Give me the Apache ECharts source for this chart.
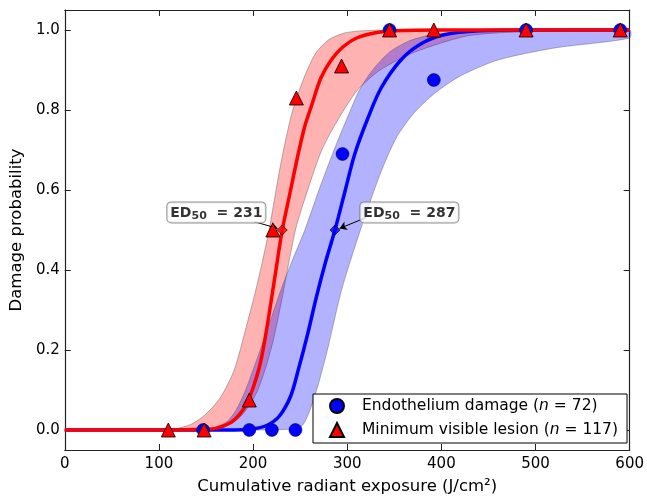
<!DOCTYPE html>
<html>
<head>
<meta charset="utf-8">
<script src="https://cdn.jsdelivr.net/npm/echarts@6/dist/echarts.min.js"></script>
<style>
  html, body { margin: 0; padding: 0; background: #fff; }
  #chart { width: 647px; height: 500px; }
</style>
</head>
<body>
<div id="chart"></div>
<script>
// tick labels
const xTicks = [0, 100, 200, 300, 400, 500, 600];
const yTicks = [0, 0.2, 0.4, 0.6, 0.8, 1.0];

// observed points
const endoX = [147, 196, 220, 245, 295, 345, 392, 490, 590];
const endoY = [0, 0, 0, 0, 0.69, 1, 0.875, 1, 1];
const lesionX = [110, 148, 196, 221, 246, 294, 345, 392, 490, 590];
const lesionY = [0, 0, 0.075, 0.5, 0.83, 0.91, 1, 1, 1, 1];

// ED50 values
const ed50Lesion = 231;
const ed50Endo = 287;

// fitted curves
const lesionFit = [[0,0],[100,0],[140,0.001],[160,0.004],[176,0.018],[186,0.04],[193,0.065],[200,0.105],[208,0.17],[215,0.26],[223,0.38],[231,0.5],[239,0.59],[247,0.68],[255,0.76],[262,0.81],[272,0.88],[283,0.925],[295,0.957],[310,0.98],[330,0.993],[350,0.998],[400,1],[600,1]];
const endoFit = [[0,0],[180,0],[200,0.003],[215,0.012],[228,0.035],[240,0.085],[248,0.15],[258,0.24],[267,0.33],[277,0.42],[287,0.5],[298,0.6],[308,0.69],[322,0.78],[336,0.855],[357,0.925],[378,0.965],[403,0.988],[440,0.998],[500,1],[600,1]];

// confidence bands (upper = left edge, lower = right edge)
const lesionUpper = [[110,0],[120,0.004],[135,0.015],[150,0.04],[165,0.08],[180,0.15],[193,0.26],[205,0.37],[217,0.5],[229,0.66],[241,0.79],[254,0.88],[266,0.94],[280,0.975],[298,0.993],[325,0.999],[400,1],[600,1]];
const lesionLower = [[145,0],[165,0.006],[185,0.03],[197,0.065],[205,0.1],[214,0.16],[222,0.23],[230,0.32],[245,0.5],[258,0.6],[273,0.7],[290,0.775],[311,0.85],[335,0.9],[372,0.945],[427,0.985],[480,0.995],[600,1]];
const endoUpper = [[145,0],[160,0.006],[172,0.02],[182,0.05],[192,0.1],[203,0.17],[215,0.25],[228,0.34],[241,0.42],[255,0.5],[270,0.6],[286,0.7],[300,0.78],[313,0.85],[327,0.9],[345,0.945],[365,0.972],[385,0.986],[420,0.995],[480,1],[600,1]];
const endoLower = [[200,0],[240,0.002],[250,0.006],[256,0.025],[262,0.06],[270,0.12],[280,0.21],[294,0.35],[314,0.5],[335,0.64],[352,0.73],[370,0.79],[392,0.84],[420,0.885],[460,0.925],[520,0.955],[600,0.98]];

const FONT = 'DejaVu Sans';
const chart = echarts.init(document.getElementById('chart'));

function band(name, upper, lower, fill) {
  const pts = upper.concat(lower.slice().reverse());
  return {
    type: 'custom',
    name: name,
    silent: true,
    z: 1,
    data: [[0, 0]],
    renderItem: (params, api) => ({
      type: 'polygon',
      shape: { points: pts.map(p => api.coord(p)), smooth: 0.25 },
      style: { fill: fill, stroke: 'rgba(90,90,90,0.45)', lineWidth: 1 }
    })
  };
}

function edBox(x, y, value) {
  return {
    type: 'scatter',
    silent: true,
    z: 10,
    symbolSize: 0,
    data: [[x, y]],
    label: {
      show: true,
      position: 'inside',
      formatter: '{b|ED}{s|50}{b|  = ' + value + '}',
      backgroundColor: '#fff',
      borderColor: '#777',
      borderWidth: 1,
      borderRadius: 4,
      padding: [2, 3, 1, 3],
      rich: {
        b: { fontFamily: FONT, fontWeight: 'bold', fontSize: 14, color: '#000' },
        s: { fontFamily: FONT, fontWeight: 'bold', fontSize: 11, color: '#000', verticalAlign: 'bottom', padding: [6, 0, 0, 0] }
      }
    }
  };
}

function edPoint(value, color, from, to) {
  return {
    type: 'scatter',
    silent: true,
    z: 9,
    symbol: 'diamond',
    symbolSize: 10,
    itemStyle: { color: color, borderColor: '#000', borderWidth: 0.8 },
    data: [[value, 0.5]],
    markLine: {
      silent: true,
      symbol: ['none', 'arrow'],
      symbolSize: 7,
      label: { show: false },
      lineStyle: { color: '#000', width: 1, type: 'solid' },
      data: [[{ coord: from }, { coord: to }]]
    }
  };
}

const axisCommon = {
  axisLine: { show: true, onZero: false, lineStyle: { color: '#222', width: 1.2 } },
  axisTick: { show: true, inside: true, length: 6, lineStyle: { color: '#222' } },
  splitLine: { show: false }
};

const option = {
  animation: false,
  backgroundColor: '#fff',
  grid: { left: 64, right: 13, top: 10, bottom: 49, containLabel: false },
  xAxis: [
    Object.assign({}, axisCommon, {
      type: 'value', min: 0, max: 600, interval: 100,
      name: 'Cumulative radiant exposure (J/cm²)',
      nameLocation: 'middle', nameGap: 28,
      nameTextStyle: { fontFamily: FONT, fontSize: 16.5, color: '#000' },
      axisLabel: { fontFamily: FONT, fontSize: 15, color: '#000', margin: 7, customValues: xTicks }
    }),
    Object.assign({}, axisCommon, {
      type: 'value', min: 0, max: 600, interval: 100, position: 'top',
      axisLabel: { show: false }
    })
  ],
  yAxis: [
    Object.assign({}, axisCommon, {
      type: 'value', min: -0.05, max: 1.05,
      name: 'Damage probability',
      nameLocation: 'middle', nameGap: 37,
      nameTextStyle: { fontFamily: FONT, fontSize: 16.5, color: '#000' },
      axisTick: { show: true, inside: true, length: 6, lineStyle: { color: '#222' }, customValues: yTicks },
      axisLabel: { fontFamily: FONT, fontSize: 15, color: '#000', margin: 5, customValues: yTicks,
        formatter: v => v.toFixed(1) }
    }),
    Object.assign({}, axisCommon, {
      type: 'value', min: -0.05, max: 1.05, position: 'right',
      axisTick: { show: true, inside: true, length: 6, lineStyle: { color: '#222' }, customValues: yTicks },
      axisLabel: { show: false }
    })
  ],
  legend: {
    left: 313, top: 394,
    orient: 'vertical',
    borderColor: '#000', borderWidth: 1, borderRadius: 0,
    padding: [3, 9, 4, 16],
    itemGap: 6, itemWidth: 14, itemHeight: 14,
    backgroundColor: '#fff',
    data: [
      { name: 'Endothelium damage', icon: 'circle' },
      { name: 'Minimum visible lesion', icon: 'triangle' }
    ],
    formatter: name => name === 'Endothelium damage'
      ? '{a|Endothelium damage (}{i|n}{a| = 72)}'
      : '{a|Minimum visible lesion (}{i|n}{a| = 117)}',
    textStyle: {
      padding: [0, 0, 0, 13],
      lineHeight: 18,
      rich: {
        a: { fontFamily: FONT, fontSize: 15.5, color: '#000' },
        i: { fontFamily: FONT, fontSize: 15.5, color: '#000', fontStyle: 'italic' }
      }
    }
  },
  series: [
    band('lesion band', lesionUpper, lesionLower, 'rgba(255,0,0,0.3)'),
    band('endo band', endoUpper, endoLower, 'rgba(0,0,255,0.3)'),
    {
      type: 'line', name: 'endo fit', data: endoFit, showSymbol: false, silent: true, z: 3,
      smooth: 0.3,
      lineStyle: { color: '#0000ff', width: 3.5 }
    },
    {
      type: 'line', name: 'lesion fit', data: lesionFit, showSymbol: false, silent: true, z: 4,
      smooth: 0.3,
      lineStyle: { color: '#ff0000', width: 3.5 }
    },
    {
      type: 'scatter', name: 'Endothelium damage', z: 5,
      symbol: 'circle', symbolSize: 13,
      itemStyle: { color: '#0000ff', borderColor: '#000', borderWidth: 0.5, opacity: 1 },
      data: endoX.map((x, i) => [x, endoY[i]])
    },
    {
      type: 'scatter', name: 'Minimum visible lesion', z: 6,
      symbol: 'triangle', symbolSize: 14,
      itemStyle: { color: '#ff0000', borderColor: '#000', borderWidth: 0.8, opacity: 1 },
      data: lesionX.map((x, i) => [x, lesionY[i]])
    },
    edPoint(ed50Lesion, '#ff0000', [201, 0.521], [226, 0.504]),
    edPoint(ed50Endo, '#0000ff', [320, 0.531], [292, 0.504]),
    edBox(161, 0.544, ed50Lesion),
    edBox(366, 0.544, ed50Endo)
  ]
};

chart.setOption(option);
</script>
</body>
</html>
